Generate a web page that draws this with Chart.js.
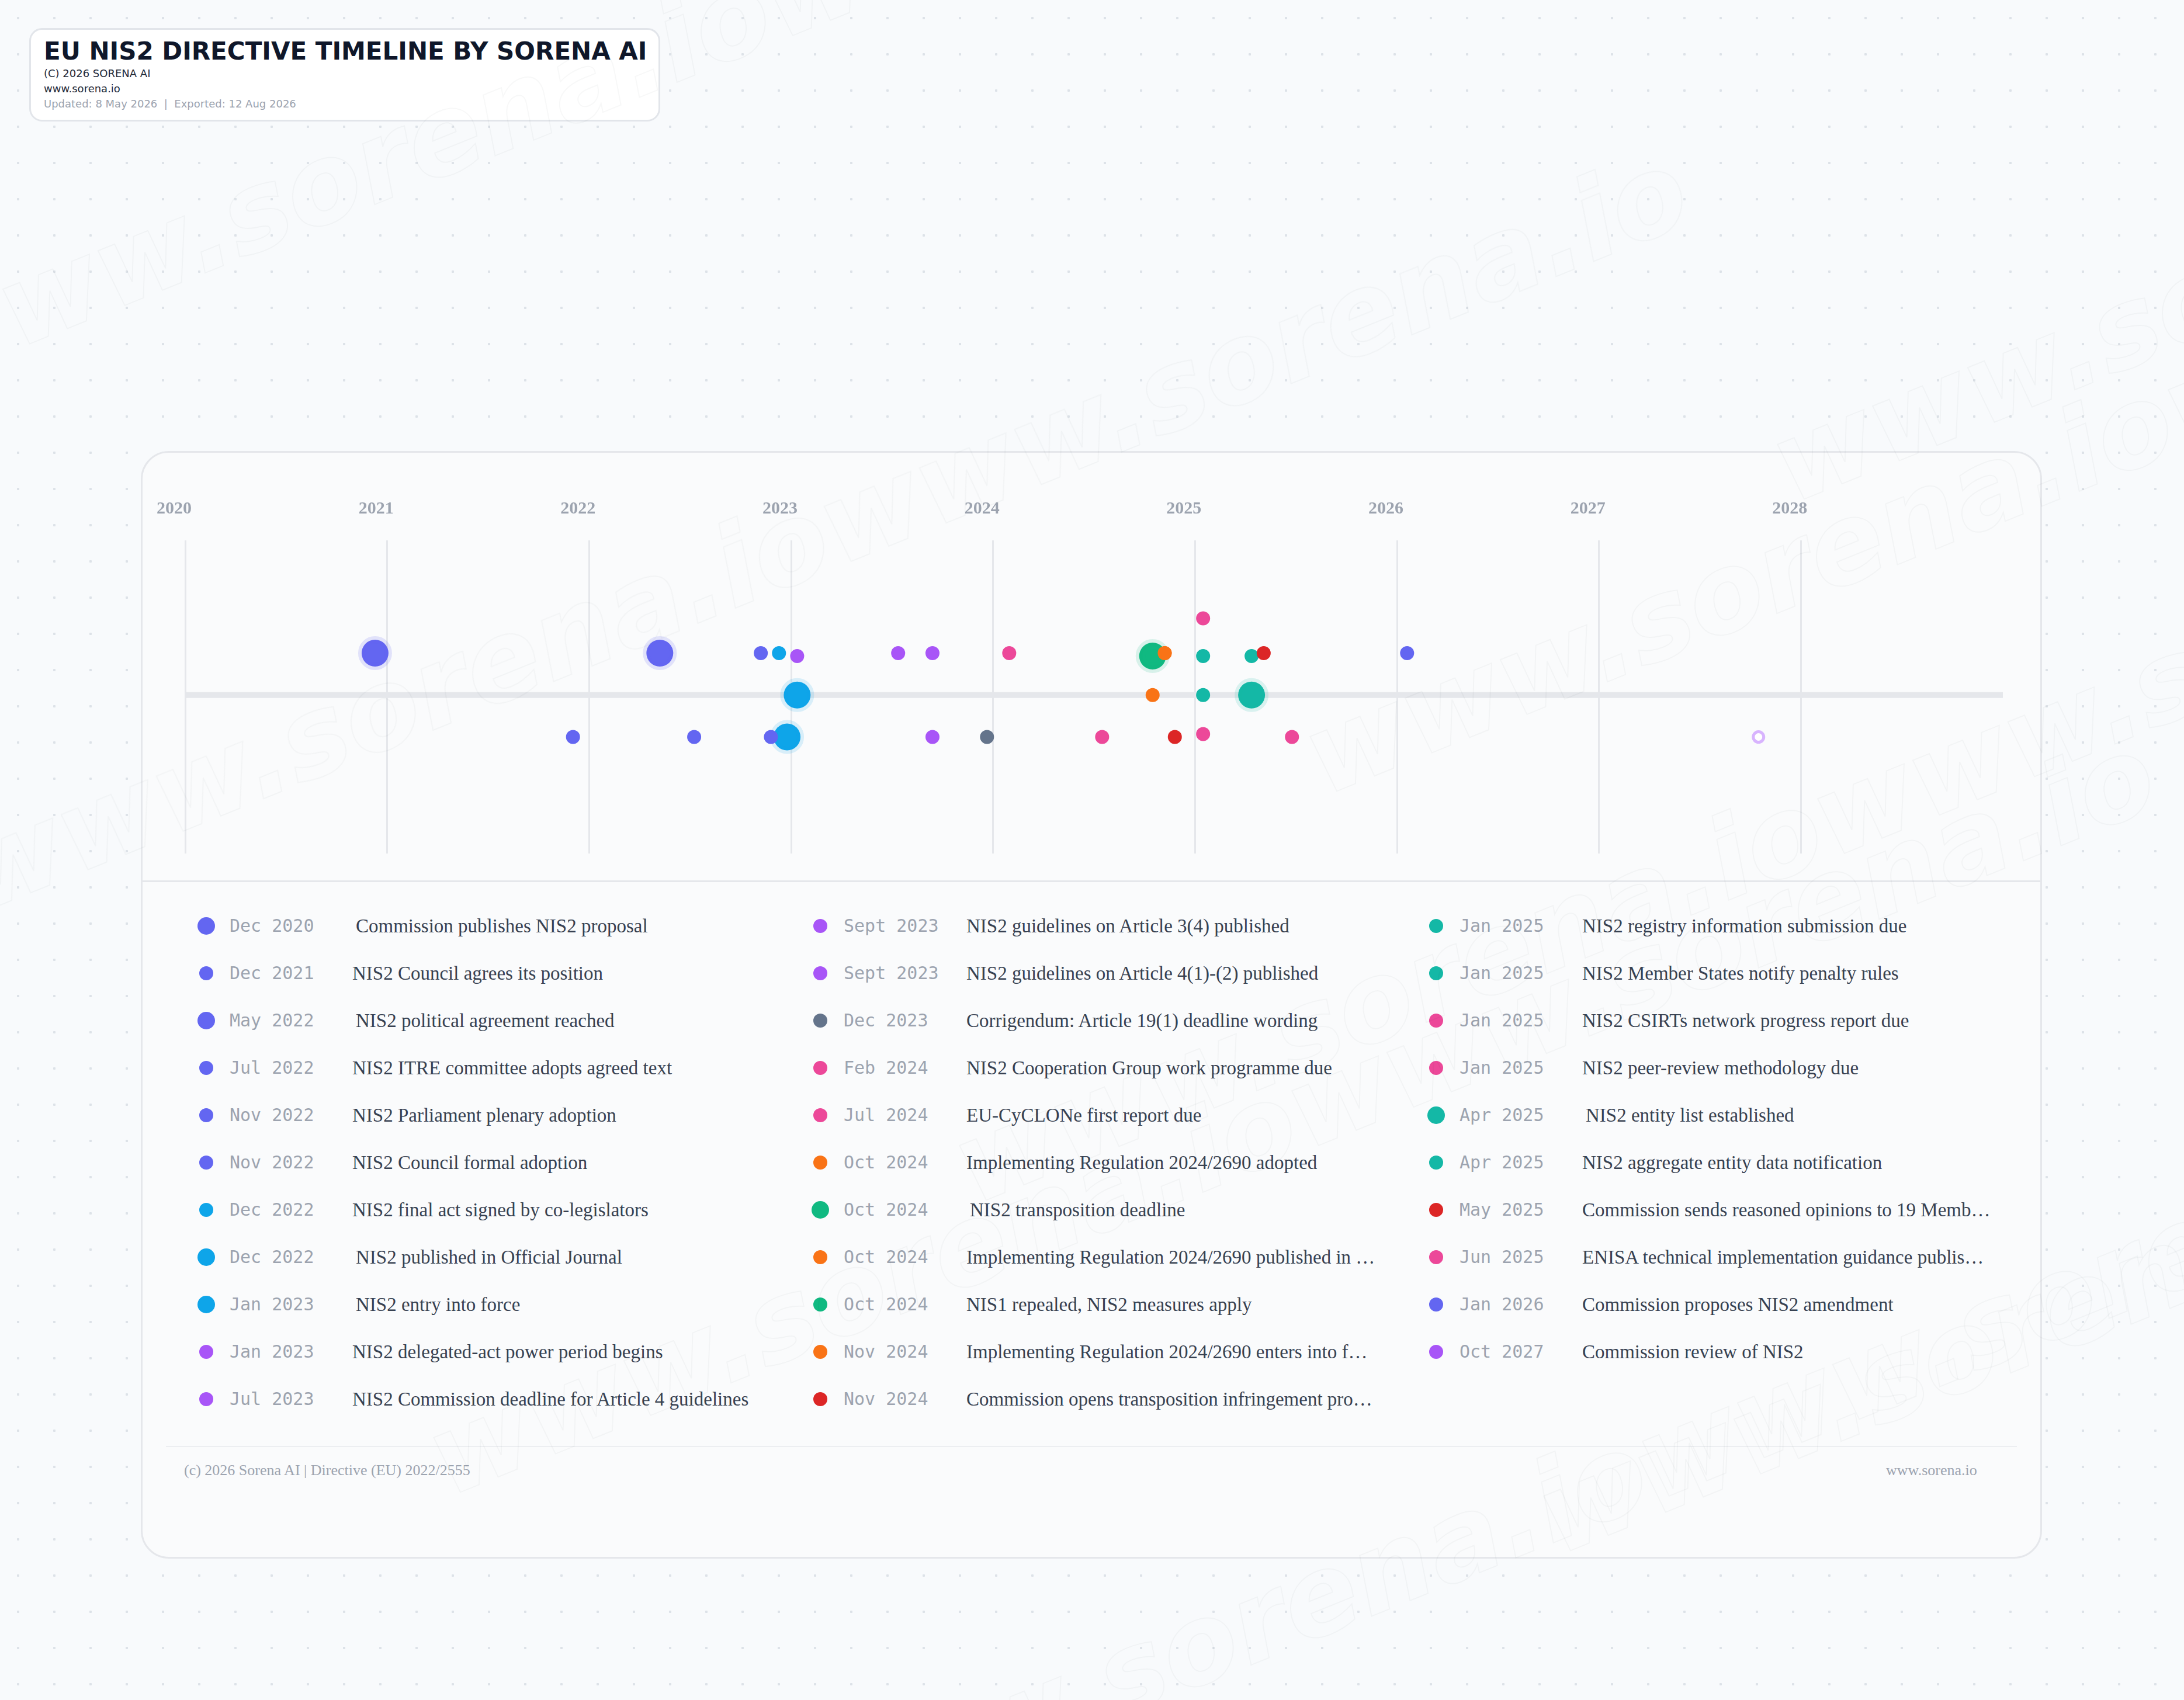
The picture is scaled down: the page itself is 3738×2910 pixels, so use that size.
<!DOCTYPE html>
<html>
<head>
<meta charset="utf-8">
<script src="https://cdn.jsdelivr.net/npm/chart.js@4.4.1/dist/chart.umd.min.js"></script>
<style>
  html, body { margin: 0; padding: 0; }
  body {
    width: 3738px; height: 2910px; position: relative; overflow: hidden;
    background-color: #f8fafc;
    background-image: radial-gradient(circle, #dde2e8 2px, transparent 2.5px);
    background-size: 62px 62px;
    font-family: "DejaVu Sans", sans-serif;
  }
  .wm {
    position: absolute; font-family: "DejaVu Sans", sans-serif; font-weight: bold; font-style: italic;
    font-size: 190px; color: transparent; -webkit-text-stroke: 2px rgba(15, 23, 42, 0.03);
    transform: rotate(-22deg); transform-origin: left top; white-space: nowrap; pointer-events: none; z-index: 5;
  }
  .header {
    position: absolute; left: 50px; top: 48px; width: 1080px; height: 160px;
    background: #fff; border: 3px solid #e2e5ea; border-radius: 22px; box-sizing: border-box;
  }
  .header h1 { position: absolute; left: 22px; top: 12px; margin: 0; font-size: 42px; line-height: 50px; color: #0f172a; font-weight: bold; white-space: nowrap; }
  .header .s { position: absolute; left: 22px; font-size: 18px; line-height: 22px; color: #1f2937; }
  .header .m { color: #9ca3af; }
  .card {
    position: absolute; left: 241px; top: 772px; width: 3254px; height: 1896px;
    background: #fafbfc; border: 3px solid #e5e7eb; border-radius: 48px; box-sizing: border-box;
  }
  .sep { position: absolute; left: 0; right: 0; height: 3px; background: #e5e7eb; }
  #chartBox { position: absolute; left: 241px; top: 817px; width: 3254px; height: 679px; }
  .item { position: absolute; height: 60px; }
  .dot { position: absolute; border-radius: 50%; }
  .date { position: absolute; font-family: "DejaVu Sans Mono", monospace; font-size: 30px; color: #9ca3af; white-space: nowrap; top: -18px; }
  .desc { position: absolute; font-family: "Liberation Serif", serif; font-size: 33px; color: #374151; white-space: nowrap; overflow: hidden; text-overflow: ellipsis; top: -20px; width: 700px; line-height: 40px; }
  .foot { position: absolute; font-family: "Liberation Serif", serif; font-size: 26px; color: #9ca3af; top: 2502px; }
</style>
</head>
<body>
<div class="header">
  <h1>EU NIS2 DIRECTIVE TIMELINE BY SORENA AI</h1>
  <div class="s" style="top:64px">(C) 2026 SORENA AI</div>
  <div class="s" style="top:90px">www.sorena.io</div>
  <div class="s m" style="top:116px">Updated: 8 May 2026 &nbsp;|&nbsp; Exported: 12 Aug 2026</div>
</div>
<div class="card">
  <div class="sep" style="top:732px"></div>
  <div class="sep" style="top:1700px; left:40px; right:40px; height:2px; background:#eceef1"></div>
</div>
<div id="chartBox"><canvas id="timeline"></canvas></div>
<div id="legend"></div>
<div class="foot" style="left:315px">(c) 2026 Sorena AI | Directive (EU) 2022/2555</div>
<div class="foot" style="left:3228px">www.sorena.io</div>
<div id="wms"></div>

<script>
// timeline data
const years = [2020, 2021, 2022, 2023, 2024, 2025, 2026, 2027, 2028];
const eventDateLabels = [
  "Dec 2020", "Dec 2021", "May 2022", "Jul 2022", "Nov 2022", "Nov 2022", "Dec 2022", "Dec 2022",
  "Jan 2023", "Jan 2023", "Jul 2023", "Sept 2023", "Sept 2023", "Dec 2023", "Feb 2024", "Jul 2024",
  "Oct 2024", "Oct 2024", "Oct 2024", "Oct 2024", "Nov 2024", "Nov 2024", "Jan 2025", "Jan 2025",
  "Jan 2025", "Jan 2025", "Apr 2025", "Apr 2025", "May 2025", "Jun 2025", "Jan 2026", "Oct 2027"
];
const eventTitles = [
  "Commission publishes NIS2 proposal",
  "NIS2 Council agrees its position",
  "NIS2 political agreement reached",
  "NIS2 ITRE committee adopts agreed text",
  "NIS2 Parliament plenary adoption",
  "NIS2 Council formal adoption",
  "NIS2 final act signed by co-legislators",
  "NIS2 published in Official Journal",
  "NIS2 entry into force",
  "NIS2 delegated-act power period begins",
  "NIS2 Commission deadline for Article 4 guidelines",
  "NIS2 guidelines on Article 3(4) published",
  "NIS2 guidelines on Article 4(1)-(2) published",
  "Corrigendum: Article 19(1) deadline wording",
  "NIS2 Cooperation Group work programme due",
  "EU-CyCLONe first report due",
  "Implementing Regulation 2024/2690 adopted",
  "NIS2 transposition deadline",
  "Implementing Regulation 2024/2690 published in the Official Journal",
  "NIS1 repealed, NIS2 measures apply",
  "Implementing Regulation 2024/2690 enters into force",
  "Commission opens transposition infringement procedures",
  "NIS2 registry information submission due",
  "NIS2 Member States notify penalty rules",
  "NIS2 CSIRTs network progress report due",
  "NIS2 peer-review methodology due",
  "NIS2 entity list established",
  "NIS2 aggregate entity data notification",
  "Commission sends reasoned opinions to 19 Member States",
  "ENISA technical implementation guidance published",
  "Commission proposes NIS2 amendment",
  "Commission review of NIS2"
];
// x position (decimal year) and lane
const eventX = [
  2020.94, 2021.92, 2022.35, 2022.52, 2022.85, 2022.90, 2022.94, 2022.98,
  2023.03, 2023.03, 2023.53, 2023.70, 2023.70, 2023.97, 2024.08, 2024.54,
  2024.85, 2024.79, 2024.79, 2024.79, 2024.85, 2024.90, 2025.04, 2025.04,
  2025.04, 2025.04, 2025.28, 2025.28, 2025.34, 2025.48, 2026.05, 2027.79
];
const eventLane = [
  1, -1, 1, -1, 1, -1, 1, -1,
  0, 0.93, 1, 1, -1, -1, 1, -1,
  1, 0.93, 0, 0.93, 1, -1, 0.93, 0,
  1.83, -0.93, 0, 0.93, 1, -1, 1, -1
];
const eventKind = [
  "indigo", "indigo", "indigo", "indigo", "indigo", "indigo", "cyan", "cyan",
  "cyan", "purple", "purple", "purple", "purple", "slate", "pink", "pink",
  "orange", "green", "orange", "green", "orange", "red", "teal", "teal",
  "pink", "pink", "teal", "teal", "red", "pink", "indigo", "future"
];
const majorEvents = [0, 2, 7, 8, 17, 26];

const palette = {
  indigo: "#6366f1", cyan: "#0ea5e9", purple: "#a855f7", slate: "#64748b", pink: "#ec4899",
  orange: "#f97316", green: "#10b981", teal: "#14b8a6", red: "#dc2626", future: "#d8b4fe"
};
const halo = {
  indigo: "rgba(99,102,241,0.16)", cyan: "rgba(14,165,233,0.14)", green: "rgba(16,185,129,0.14)", teal: "rgba(20,184,166,0.14)"
};

// draw order: majors first so small marks sit on top like in the reference
const order = eventX.map((_, i) => i).sort((a, b) => {
  const ma = majorEvents.includes(a) ? 0 : 1, mb = majorEvents.includes(b) ? 0 : 1;
  return ma - mb;
});
const points = order.map(i => ({ x: eventX[i], y: eventLane[i] }));
const bg = order.map(i => eventKind[i] === "future" ? "#ffffff" : palette[eventKind[i]]);
const bc = order.map(i => majorEvents.includes(i) ? halo[eventKind[i]] : palette[eventKind[i]]);
const bw = order.map(i => majorEvents.includes(i) ? 12 : (eventKind[i] === "future" ? 5 : 0));
const rad = order.map(i => majorEvents.includes(i) ? 23 : (eventKind[i] === "future" ? 9 : 12));

new Chart(document.getElementById("timeline"), {
  type: "scatter",
  data: {
    datasets: [
      {
        data: points,
        pointBackgroundColor: bg,
        pointBorderColor: bc,
        pointBorderWidth: bw,
        pointRadius: rad,
        pointHoverRadius: rad,
        order: 1
      },
      {
        type: "line",
        data: [{ x: 2020, y: 0 }, { x: 2029, y: 0 }],
        borderColor: "#e5e7eb",
        borderWidth: 10,
        pointRadius: 0,
        order: 2
      }
    ]
  },
  options: {
    responsive: true,
    maintainAspectRatio: false,
    devicePixelRatio: 1,
    animation: false,
    layout: { padding: { left: 76, right: 67, top: 0, bottom: 17 } },
    plugins: { legend: { display: false }, tooltip: { enabled: false } },
    scales: {
      x: {
        type: "linear",
        position: "top",
        min: 2020,
        max: 2029,
        afterBuildTicks: (axis) => { axis.ticks = years.concat([2029]).map(v => ({ value: v })); },
        border: { display: false },
        grid: {
          color: (ctx) => ctx.tick && ctx.tick.value === 2029 ? "rgba(0,0,0,0)" : "#e5e7eb",
          lineWidth: 3,
          drawTicks: false
        },
        ticks: {
          padding: 36,
          labelOffset: -19,
          maxRotation: 0,
          color: "#9ca3af",
          font: { family: "Liberation Serif", size: 30, weight: "bold" },
          callback: (v) => years.includes(v) ? String(v) : ""
        }
      },
      y: {
        display: false,
        min: -3.78,
        max: 3.69
      }
    }
  }
});

// legend, three columns
const legend = document.getElementById("legend");
const colX = [353, 1404, 2458];
eventTitles.forEach((title, i) => {
  const col = Math.floor(i / 11), row = i % 11;
  const major = majorEvents.includes(i);
  const kind = eventKind[i];
  const el = document.createElement("div");
  el.className = "item";
  el.style.left = colX[col] + "px";
  el.style.top = (1585 + row * 81) + "px";
  const r = major ? 15 : 12;
  const color = kind === "future" ? palette.purple : palette[kind];
  el.innerHTML = `
    <div class="dot" style="left:${-r}px; top:${-r}px; width:${2 * r}px; height:${2 * r}px; background:${color};"></div>
    <div class="date" style="left:40px">${eventDateLabels[i]}</div>
    <div class="desc" style="left:${major ? 256 : 250}px">${title}</div>
  `;
  legend.appendChild(el);
});

// watermark
const wms = document.getElementById("wms");
[[-200, 500], [-100, 1400], [700, 2400], [1300, 3000], [2200, 1200], [3000, 700], [2600, 2500], [1600, 1900]].forEach(p => {
  const d = document.createElement("div");
  d.className = "wm";
  d.style.left = p[0] + "px";
  d.style.top = p[1] + "px";
  d.textContent = "www.sorena.iowww.sorena.io";
  wms.appendChild(d);
});
</script>
</body>
</html>
